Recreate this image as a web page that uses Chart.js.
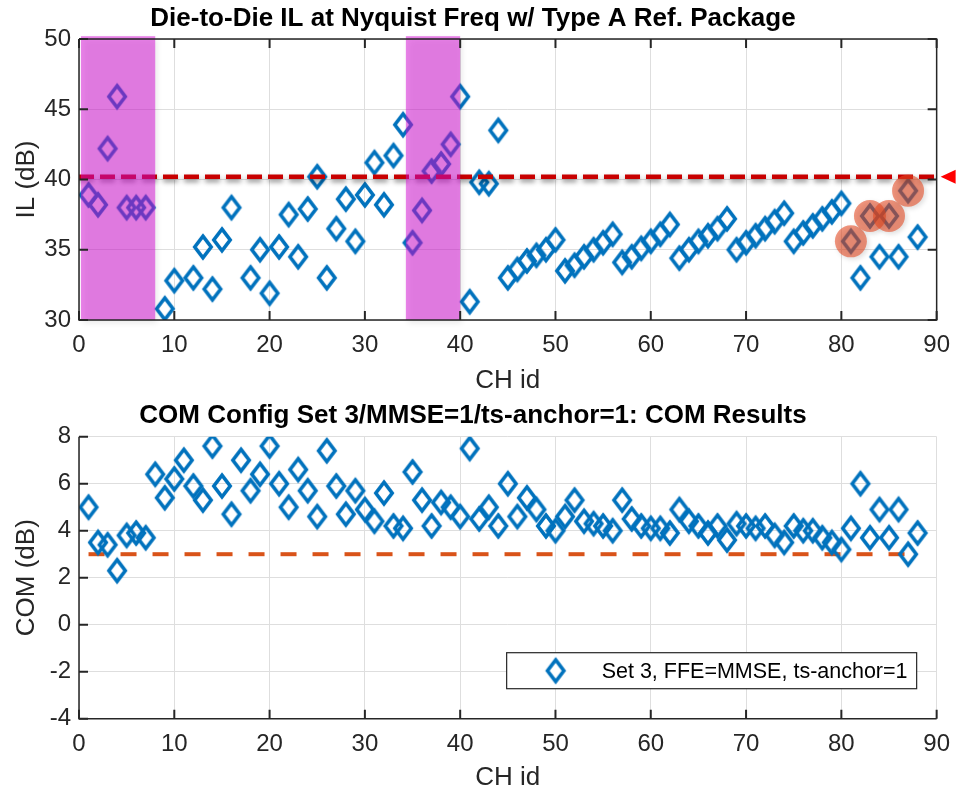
<!DOCTYPE html>
<html>
<head>
<meta charset="utf-8">
<script src="https://cdn.jsdelivr.net/npm/chart.js@4.4.1/dist/chart.umd.min.js"></script>
<style>
  html, body { margin: 0; padding: 0; background: #fff; }
  #wrap { position: relative; width: 961px; height: 791px; }
  #ilChart { position: absolute; left: 0; top: 0; }
  #comChart { position: absolute; left: 0; top: 395px; }
</style>
</head>
<body>
<div id="wrap">
  <canvas id="ilChart" width="961" height="395"></canvas>
  <canvas id="comChart" width="961" height="396"></canvas>
</div>
<script>
// channel ids (x axis)
const chIds = [1, 2, 3, 4, 5, 6, 7, 8, 9, 10, 11, 12, 13, 14, 15, 16, 17, 18, 19, 20,
  21, 22, 23, 24, 25, 26, 27, 28, 29, 30, 31, 32, 33, 34, 35, 36, 37, 38, 39, 40,
  41, 42, 43, 44, 45, 46, 47, 48, 49, 50, 51, 52, 53, 54, 55, 56, 57, 58, 59, 60,
  61, 62, 63, 64, 65, 66, 67, 68, 69, 70, 71, 72, 73, 74, 75, 76, 77, 78, 79, 80,
  81, 82, 83, 84, 85, 86, 87, 88];

// IL at Nyquist (dB), null = not plotted
const ilValues = [38.9, 38.2, 42.2, 45.9, 38.0, 38.0, 38.0, null, 30.8, 32.8,
  null, 33.0, 35.2, 32.2, 35.7, 38.0, null, 33.0, 35.0, 31.9,
  35.2, 37.5, 34.5, 37.9, 40.2, 33.0, 36.5, 38.6, 35.6, 38.9,
  41.2, 38.2, 41.7, 43.9, 35.5, 37.8, 40.6, 41.1, 42.5, 45.9,
  31.3, 39.8, 39.7, 43.5, 33.0, 33.6, 34.2, 34.6, 35.0, 35.7,
  33.5, 33.9, 34.5, 35.0, 35.5, 36.1, 34.1, 34.5, 35.1, 35.6,
  36.1, 36.8, 34.4, 35.0, 35.6, 36.0, 36.5, 37.2, 35.0, 35.5,
  36.0, 36.5, 37.0, 37.6, 35.6, 36.2, 36.7, 37.2, 37.7, 38.3,
  35.6, 33.0, 37.4, 34.5, 37.4, 34.5, 39.2, 35.9];

// COM (dB)
const comValues = [5.0, 3.5, 3.4, 2.3, 3.8, 3.9, 3.7, 6.4, 5.4, 6.2,
  7.0, 5.9, 5.3, 7.6, 5.9, 4.7, 7.0, 5.7, 6.4, 7.6,
  6.0, 5.0, 6.6, 5.7, 4.6, 7.4, 5.9, 4.7, 5.7, 4.9,
  4.4, 5.6, 4.2, 4.1, 6.5, 5.3, 4.2, 5.2, 5.0, 4.6,
  7.5, 4.5, 5.0, 4.2, 6.0, 4.6, 5.4, 4.9, 4.2, 4.0,
  4.6, 5.3, 4.4, 4.3, 4.2, 4.0, 5.3, 4.5, 4.2, 4.1,
  4.1, 3.9, 4.9, 4.4, 4.2, 3.9, 4.2, 3.6, 4.3, 4.2,
  4.1, 4.2, 3.8, 3.5, 4.2, 4.0, 4.0, 3.7, 3.5, 3.2,
  4.1, 6.0, 3.7, 4.9, 3.7, 4.9, 3.0, 3.9];

// IL limit line and COM limit line
const ilLimit = 40.2;
const ilLimitSpan = [0, 90];
const comLimit = 3;
const comLimitSpan = [1, 88];

// channels flagged with circles
const flaggedCh = [81, 83, 85, 87];

// shaded channel ranges (x from..to, IL bottom..top)
const shadeFrom = [0.2, 34.3];
const shadeTo = [8, 40];
const shadeIL = [30, 50.2];

// tick labels
const xTicks = [0, 10, 20, 30, 40, 50, 60, 70, 80, 90];
const ilTicks = [30, 35, 40, 45, 50];
const comTicks = [-4, -2, 0, 2, 4, 6, 8];

const FONT = '"Liberation Sans", Arial, Helvetica, sans-serif';
const AXIS_CLR = '#262626';
const BLUE = '#0072BD';

Chart.defaults.font.family = FONT;

// tall diamond marker like the MATLAB 'd' marker
function makeDiamond(color) {
    const c = document.createElement('canvas');
    c.width = 24;
    c.height = 32;
    const g = c.getContext('2d');
    g.strokeStyle = color;
    g.lineWidth = 3.6;
    g.lineJoin = 'miter';
    g.beginPath();
    g.moveTo(12, 5.2);
    g.lineTo(20.2, 16);
    g.lineTo(12, 26.8);
    g.lineTo(3.8, 16);
    g.closePath();
    g.stroke();
    return c;
}
const diamond = makeDiamond(BLUE);

const toPoints = (xs, ys) => xs.map((x, i) => ({ x: x, y: ys[i] }));

// shadow for datasets that carry a "shadow" entry
const shadowPlugin = {
    id: 'dsShadow',
    beforeDatasetDraw(chart, args) {
        const sh = chart.data.datasets[args.index].shadow;
        if (!sh) return;
        const ctx = chart.ctx;
        ctx.save();
        ctx.shadowColor = sh.color;
        ctx.shadowBlur = sh.blur;
        ctx.shadowOffsetX = sh.dx || 0;
        ctx.shadowOffsetY = sh.dy || 0;
    },
    afterDatasetDraw(chart, args) {
        if (chart.data.datasets[args.index].shadow) chart.ctx.restore();
    }
};

// MATLAB-like axes: inward ticks, optional full box
const framePlugin = {
    id: 'frame',
    afterDraw(chart, args, opts) {
        const { ctx, chartArea: a, scales } = chart;
        const x = scales.x, y = scales.y;
        ctx.save();
        ctx.strokeStyle = AXIS_CLR;
        ctx.lineWidth = 1.5;
        ctx.beginPath();
        ctx.moveTo(a.left, a.top);
        ctx.lineTo(a.left, a.bottom);
        ctx.lineTo(a.right, a.bottom);
        if (opts.box) {
            ctx.lineTo(a.right, a.top);
            ctx.lineTo(a.left, a.top);
        }
        ctx.stroke();
        const len = 9;
        ctx.lineWidth = 2;
        ctx.beginPath();
        x.ticks.forEach(t => {
            const px = x.getPixelForValue(t.value);
            ctx.moveTo(px, a.bottom);
            ctx.lineTo(px, a.bottom - len);
            if (opts.box) {
                ctx.moveTo(px, a.top);
                ctx.lineTo(px, a.top + len);
            }
        });
        y.ticks.forEach(t => {
            const py = y.getPixelForValue(t.value);
            ctx.moveTo(a.left, py);
            ctx.lineTo(a.left + len, py);
            if (opts.box) {
                ctx.moveTo(a.right, py);
                ctx.lineTo(a.right - len, py);
            }
        });
        ctx.stroke();
        ctx.restore();
    }
};

// magenta channel bands, on top of the markers
const shadePlugin = {
    id: 'shade',
    afterDatasetsDraw(chart) {
        const { ctx, scales: { x, y } } = chart;
        const yTop = y.getPixelForValue(shadeIL[1]);
        const yBot = y.getPixelForValue(shadeIL[0]);
        ctx.save();
        ctx.fillStyle = 'rgba(214, 10, 214, 0.5)';
        ctx.shadowColor = 'rgba(0, 0, 0, 0.18)';
        ctx.shadowBlur = 6;
        ctx.shadowOffsetX = 2;
        ctx.shadowOffsetY = 3;
        shadeFrom.forEach((from, i) => {
            const x1 = x.getPixelForValue(from);
            const x2 = x.getPixelForValue(shadeTo[i]);
            ctx.fillRect(x1, yTop, x2 - x1, yBot - yTop);
        });
        ctx.restore();
    }
};

// red arrow at the right edge marking the IL limit
const limitMarkPlugin = {
    id: 'limitMark',
    afterDraw(chart) {
        const { ctx, chartArea: a, scales: { y } } = chart;
        const py = y.getPixelForValue(ilLimit);
        const tip = a.right + 4;
        ctx.save();
        ctx.fillStyle = '#ff0000';
        ctx.beginPath();
        ctx.moveTo(tip, py);
        ctx.lineTo(tip + 15, py - 7);
        ctx.lineTo(tip + 15, py + 7);
        ctx.closePath();
        ctx.fill();
        ctx.restore();
    }
};

// boxed legend inside the lower-right of the plot
const boxLegendPlugin = {
    id: 'boxLegend',
    afterDraw(chart, args, opts) {
        const { ctx, chartArea: a } = chart;
        const w = 410, h = 36;
        const left = a.right - 20 - w;
        const top = a.bottom - 30 - h;
        ctx.save();
        ctx.fillStyle = '#ffffff';
        ctx.fillRect(left, top, w, h);
        ctx.strokeStyle = AXIS_CLR;
        ctx.lineWidth = 1.2;
        ctx.strokeRect(left, top, w, h);
        ctx.drawImage(diamond, left + 49 - diamond.width / 2, top + h / 2 - diamond.height / 2);
        ctx.fillStyle = '#000000';
        ctx.font = '21.5px ' + FONT;
        ctx.textBaseline = 'middle';
        ctx.textAlign = 'left';
        ctx.fillText(opts.text, left + 95, top + h / 2 + 1);
        ctx.restore();
    }
};

function baseOptions(title, titlePad, yTitle, yMin, yMax, yTickList, xHeight) {
    return {
        responsive: false,
        animation: false,
        events: [],
        layout: { padding: { left: 0, right: 15, top: 0, bottom: 0 } },
        plugins: {
            legend: { display: false },
            tooltip: { enabled: false },
            title: {
                display: true,
                text: title,
                color: '#000000',
                font: { size: 26, weight: 'bold', lineHeight: 1 },
                padding: titlePad
            }
        },
        scales: {
            x: {
                type: 'linear',
                position: 'bottom',
                min: 0,
                max: 90,
                afterBuildTicks: s => { s.ticks = xTicks.map(v => ({ value: v })); },
                afterFit: s => { s.height = xHeight; },
                grid: { color: '#dedede', lineWidth: 1, drawTicks: false },
                border: { display: false },
                ticks: { color: AXIS_CLR, font: { size: 24 }, padding: 11, maxRotation: 0, autoSkip: false },
                title: { display: true, text: 'CH id', color: AXIS_CLR, font: { size: 26, lineHeight: 1 }, padding: { top: 0, bottom: 1 } }
            },
            y: {
                type: 'linear',
                min: yMin,
                max: yMax,
                afterBuildTicks: s => { s.ticks = yTickList.map(v => ({ value: v })); },
                afterFit: s => { s.width = 79; },
                grid: { color: '#dedede', lineWidth: 1, drawTicks: false },
                border: { display: false },
                ticks: { color: AXIS_CLR, font: { size: 24 }, padding: 8, autoSkip: false },
                title: { display: true, text: yTitle, color: AXIS_CLR, font: { size: 26, lineHeight: 1 }, padding: { top: 14, bottom: 0 } }
            }
        }
    };
}

// ---- top: IL ----
const ilOpts = baseOptions('Die-to-Die IL at Nyquist Freq w/ Type A Ref. Package',
    { top: 5.5, bottom: 7.5 }, 'IL (dB)', ilTicks[0], ilTicks[ilTicks.length - 1], ilTicks, 75);
ilOpts.plugins.frame = { box: true };

new Chart(document.getElementById('ilChart'), {
    type: 'scatter',
    data: {
        datasets: [
            {
                label: 'flagged',
                data: flaggedCh.map(ch => ({ x: ch, y: ilValues[chIds.indexOf(ch)] })),
                pointStyle: 'circle',
                pointRadius: 16,
                pointBackgroundColor: 'rgba(230, 72, 32, 0.58)',
                pointBorderWidth: 0,
                order: 0,
                shadow: { color: 'rgba(0, 0, 0, 0.22)', blur: 5, dx: 2, dy: 2 }
            },
            {
                label: 'IL limit',
                data: [{ x: ilLimitSpan[0], y: ilLimit }, { x: ilLimitSpan[1], y: ilLimit }],
                showLine: true,
                pointRadius: 0,
                borderColor: '#c80000',
                borderWidth: 4.5,
                borderDash: [15, 6],
                order: 1,
                shadow: { color: 'rgba(0, 0, 0, 0.45)', blur: 5, dx: 0, dy: 3 }
            },
            {
                label: 'IL',
                data: toPoints(chIds, ilValues),
                pointStyle: diamond,
                pointRadius: 10,
                order: 2
            }
        ]
    },
    options: ilOpts,
    plugins: [shadowPlugin, shadePlugin, limitMarkPlugin, framePlugin]
});

// ---- bottom: COM ----
const comOpts = baseOptions('COM Config Set 3/MMSE=1/ts-anchor=1: COM Results',
    { top: 8, bottom: 7.7 }, 'COM (dB)', comTicks[0], comTicks[comTicks.length - 1], comTicks, 72.3);
comOpts.scales.x.title.padding = { top: 0, bottom: 0.5 };
comOpts.plugins.frame = { box: false };
comOpts.plugins.boxLegend = { text: 'Set 3, FFE=MMSE, ts-anchor=1' };

new Chart(document.getElementById('comChart'), {
    type: 'scatter',
    data: {
        datasets: [
            {
                label: 'COM limit',
                data: [{ x: comLimitSpan[0], y: comLimit }, { x: comLimitSpan[1], y: comLimit }],
                showLine: true,
                pointRadius: 0,
                borderColor: '#D95319',
                borderWidth: 4,
                borderDash: [16, 16],
                order: 1
            },
            {
                label: 'Set 3, FFE=MMSE, ts-anchor=1',
                data: toPoints(chIds, comValues),
                pointStyle: diamond,
                pointRadius: 10,
                order: 0
            }
        ]
    },
    options: comOpts,
    plugins: [framePlugin, boxLegendPlugin]
});
</script>
</body>
</html>
